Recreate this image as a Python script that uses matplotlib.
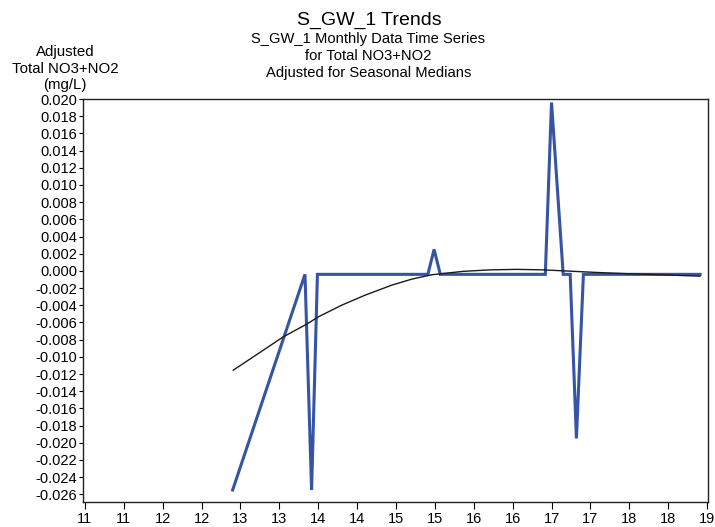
import numpy as np
import matplotlib
matplotlib.use('Agg')
import matplotlib.pyplot as plt
from matplotlib.ticker import FuncFormatter

plt.rcParams['font.family'] = ['Liberation Sans', 'DejaVu Sans']
plt.rcParams['axes.unicode_minus'] = False

# monthly adjusted values (decimal year, mg/L)
obs_year = [2012.90, 2013.83, 2013.915, 2013.99, 2015.41, 2015.49, 2015.57,
            2016.92, 2017.00, 2017.15, 2017.24, 2017.32, 2017.41, 2018.91]
obs_val = [-0.0255, -0.0004, -0.0255, -0.0004, -0.0004, 0.0025, -0.0004,
           -0.0004, 0.0196, -0.0004, -0.0004, -0.0195, -0.0004, -0.0004]

# smooth trend curve
trend_year = [2012.907, 2013.229, 2013.550, 2013.851, 2014.001, 2014.302, 2014.601,
              2014.945, 2015.202, 2015.459, 2015.630, 2015.866, 2016.209, 2016.552,
              2016.895, 2017.238, 2017.581, 2018.010, 2018.438, 2018.910]
trend_val = [-0.01156, -0.00962, -0.00768, -0.00620, -0.00535, -0.00399, -0.00283,
             -0.00166, -0.00096, -0.00045, -0.00028, -0.00005, 0.00012, 0.00018,
             0.00012, -0.00003, -0.00018, -0.00034, -0.00046, -0.00061]

yticks = np.arange(-0.026, 0.0201, 0.002)
xticks = np.arange(2011, 2019.01, 0.5)

fig = plt.figure(figsize=(7.15, 5.27), dpi=100)
ax = fig.add_axes([0.116, 0.0474, 0.874, 0.7646])

ax.plot(obs_year, obs_val, color='#3653a5', lw=2.2, solid_joinstyle='miter')
ax.plot(trend_year, trend_val, color='#1a1a1a', lw=1.0)

ax.set_xlim(2010.975, 2019.01)
ax.set_ylim(-0.0269, 0.020)
ax.set_yticks(yticks)
ax.set_xticks(xticks)
ax.yaxis.set_major_formatter(FuncFormatter(lambda v, p: '%.3f' % (0.0 if abs(v) < 1e-9 else v)))
ax.xaxis.set_major_formatter(FuncFormatter(lambda v, p: '%d' % (int(v) % 100)))
ax.tick_params(axis='y', length=3, width=0.8, pad=1, labelsize=10.5)
ax.tick_params(axis='x', length=5, width=0.8, pad=2, labelsize=10.5)
for s in ax.spines.values():
    s.set_linewidth(1.0)
    s.set_color('#222222')

fig.text(0.517, 0.9526, 'S_GW_1 Trends', ha='center', va='baseline', fontsize=14)
fig.text(0.515, 0.918, 'S_GW_1 Monthly Data Time Series', ha='center', va='baseline', fontsize=10.6)
fig.text(0.515, 0.886, 'for Total NO3+NO2', ha='center', va='baseline', fontsize=10.6)
fig.text(0.515, 0.854, 'Adjusted for Seasonal Medians', ha='center', va='baseline', fontsize=10.6)

fig.text(0.091, 0.893, 'Adjusted', ha='center', va='baseline', fontsize=10.8)
fig.text(0.091, 0.862, 'Total NO3+NO2', ha='center', va='baseline', fontsize=10.8)
fig.text(0.091, 0.832, '(mg/L)', ha='center', va='baseline', fontsize=10.8)

fig.savefig('out.png', dpi=100)
